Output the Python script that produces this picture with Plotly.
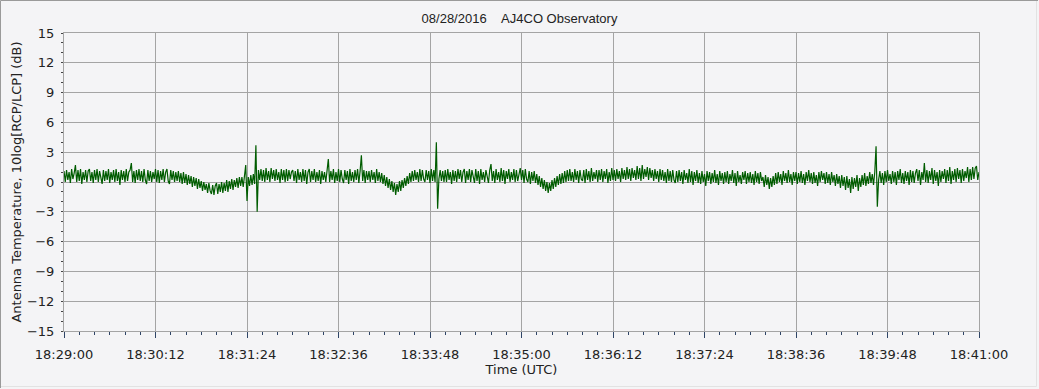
import datetime as dt
import plotly.graph_objects as go

# ---------------- data ----------------
title_text = "08/28/2016\u00a0\u00a0\u00a0\u00a0AJ4CO Observatory"
start_time = "2016-08-28 18:29:00"
end_time = "2016-08-28 18:41:00"
sample_interval_s = 1.0

# 10log[RCP/LCP] in dB, one value per second, one list per minute
min_00 = [1.1,0.0,1.2,0.2,1.0,-0.1,1.3,0.3,0.9,1.7,0.0,1.2,0.1,1.3,-0.2,1.0,0.2,1.2,0.0,1.1,
          1.3,0.1,1.0,-0.1,1.2,0.2,1.3,0.0,1.1,0.3,-0.2,1.2,0.1,1.1,0.2,1.3,-0.1,1.0,0.2,1.2,
          0.0,1.3,0.1,1.0,-0.3,1.2,0.2,1.1,0.0,1.3,0.1,1.0,1.2,1.9,0.0,1.1,-0.1,1.2,0.2,1.3]
min_01 = [0.1,1.1,0.0,1.3,0.2,-0.2,1.2,0.1,1.1,0.0,1.0,0.3,1.3,0.0,1.2,-0.1,1.1,0.2,1.3,0.0,
          1.0,1.3,0.1,-0.2,1.2,0.2,1.1,0.0,1.0,0.1,1.1,0.0,0.9,-0.2,1.0,-0.1,0.8,-0.3,0.7,-0.2,
          0.6,-0.5,0.5,-0.4,0.4,-0.7,0.3,-0.6,0.1,-0.9,0.0,-0.8,-0.2,-1.1,-0.1,-0.9,-1.2,-0.3,-1.3,-0.4]
min_02 = [-0.1,-1.2,-0.2,-1.0,0.0,-1.1,-0.1,-0.9,0.2,-1.0,0.1,-0.7,0.3,-0.8,0.2,-0.5,0.4,-0.6,0.5,-0.4,
          0.5,-0.5,0.6,1.7,-1.9,0.5,-0.4,0.7,-0.3,0.8,-0.2,3.7,-3.0,1.2,0.2,1.3,0.1,1.2,0.0,1.4,
          0.2,1.1,0.0,1.4,0.3,1.2,0.1,1.3,0.2,1.0,-0.1,1.3,0.2,1.2,0.0,1.3,0.1,1.2,0.3,1.0]
min_03 = [1.2,0.1,1.1,-0.1,1.3,0.2,1.0,0.0,1.3,0.1,1.2,-0.2,1.0,1.3,0.0,1.1,0.2,1.3,0.0,1.0,
          0.1,1.2,-0.2,1.1,0.2,1.0,0.0,1.2,2.3,0.0,1.1,0.2,1.3,-0.1,1.0,0.1,1.3,0.0,1.2,0.3,
          -0.1,1.2,0.2,1.1,-0.2,1.3,0.1,1.0,0.0,1.2,0.2,1.3,-0.1,1.1,2.7,0.1,1.2,-0.1,1.1,0.2]
min_04 = [1.1,0.0,1.2,0.2,1.0,-0.1,1.3,0.1,1.0,0.0,0.9,-0.2,0.7,-0.4,0.5,-0.6,0.3,-0.8,0.1,-1.0,
          -0.1,-1.3,-0.2,-1.0,0.1,-0.9,0.2,-0.6,0.4,-0.4,0.6,-0.2,0.9,0.0,1.1,0.1,1.2,0.2,1.0,0.0,
          1.3,0.1,1.2,0.3,0.0,1.2,0.2,1.1,-0.1,1.3,0.1,1.2,0.0,4.0,-2.7,0.3,1.2,0.1,1.1,0.0]
min_05 = [1.2,0.0,1.3,0.2,1.0,-0.2,1.2,0.1,1.1,0.0,1.3,0.3,1.2,0.0,1.0,1.3,-0.1,1.1,0.2,1.3,
          0.0,1.2,0.3,-0.1,1.3,0.1,1.1,-0.2,1.3,0.2,1.0,0.0,1.2,0.3,-0.1,1.2,1.8,0.1,1.1,-0.1,
          1.3,0.2,1.0,0.0,1.4,0.1,1.2,-0.2,1.1,0.3,1.3,0.0,1.0,0.2,1.3,0.0,1.2,0.1,0.9,1.4]
min_06 = [0.2,1.2,-0.1,1.3,0.3,0.0,1.1,-0.2,1.0,0.1,1.1,-0.1,0.8,-0.3,0.6,-0.5,0.4,-0.7,0.2,-0.9,
          0.0,-1.1,-0.1,-0.9,0.2,-0.7,0.4,-0.5,0.6,-0.3,0.8,-0.2,0.9,-0.1,1.1,0.0,1.2,0.1,1.3,0.1,
          1.0,0.0,1.3,0.2,1.1,-0.1,1.2,0.3,0.1,1.2,-0.1,1.3,0.2,1.1,0.0,1.4,0.1,1.0,0.3,1.2]
min_07 = [0.0,1.2,0.2,1.3,0.0,1.1,0.3,1.3,-0.1,1.0,0.1,1.4,0.2,1.2,0.1,1.3,0.3,1.1,0.0,1.4,
          0.3,1.2,0.2,1.5,0.3,1.3,0.1,1.4,0.4,1.2,0.2,1.6,0.3,1.4,0.1,1.7,0.3,1.3,0.5,1.5,
          0.2,1.4,0.4,1.2,0.1,1.3,0.3,1.1,0.0,1.3,0.2,1.2,0.1,1.0,-0.1,1.3,0.1,1.1,0.0,1.2]
min_08 = [0.2,-0.1,1.1,0.0,1.2,0.1,1.0,-0.2,1.2,0.2,0.9,-0.1,1.3,0.0,1.1,-0.3,1.0,0.1,1.2,-0.1,
          0.9,-0.2,1.1,0.0,0.8,-0.4,1.1,0.1,1.0,-0.2,0.9,0.0,1.2,-0.1,0.8,-0.3,1.1,0.1,0.9,-0.2,
          1.0,0.0,1.1,-0.2,0.8,0.1,1.2,-0.1,0.9,-0.4,1.1,0.0,0.7,-0.2,1.0,0.2,1.1,-0.2,0.9,0.0]
min_09 = [1.0,-0.1,0.8,-0.3,1.1,0.0,0.9,-0.2,1.0,0.1,0.5,-0.5,0.7,-0.3,0.5,-0.7,0.4,-0.5,0.6,-0.3,
          0.9,-0.2,1.0,0.0,0.8,-0.3,1.1,0.1,0.9,-0.1,1.2,0.0,0.8,-0.3,1.0,0.1,1.0,-0.2,0.9,0.0,
          1.1,-0.1,0.8,-0.3,1.0,0.1,1.2,0.0,0.9,-0.2,1.0,-0.1,0.7,-0.4,1.0,0.0,1.1,0.2,0.9,-0.2]
min_10 = [1.0,-0.1,0.8,-0.3,1.0,0.0,0.7,-0.4,0.8,-0.2,0.6,-0.6,0.7,-0.4,0.5,-0.8,0.6,-0.6,0.3,-1.1,
          0.5,-0.7,0.4,-0.5,0.7,-0.9,0.4,-0.5,0.7,-0.3,0.9,-0.4,0.6,-0.2,1.0,-0.1,0.8,-0.3,1.0,3.6,
          -2.5,0.2,1.1,-0.1,0.9,-0.3,1.1,0.0,1.2,0.1,0.8,-0.2,1.1,0.0,1.0,-0.3,1.1,0.2,1.3,-0.1]
min_11 = [0.9,-0.2,1.1,0.1,1.0,-0.3,1.2,0.0,1.1,-0.1,0.9,1.3,0.1,1.2,-0.3,1.0,0.2,1.9,0.0,1.2,
          -0.1,1.1,0.2,1.4,-0.2,1.2,0.1,1.0,-0.4,1.2,0.0,1.1,0.3,1.3,-0.1,1.2,0.1,1.5,-0.2,1.1,
          0.2,1.3,0.0,1.4,0.3,1.2,-0.1,1.3,0.1,1.1,0.4,1.5,0.0,1.3,0.2,1.5,0.3,1.4,1.6,0.2,
          1.0]

y_tick_values = [-15, -12, -9, -6, -3, 0, 3, 6, 9, 12, 15]

# ---------------- build series ----------------
db_values = (min_00 + min_01 + min_02 + min_03 + min_04 + min_05 +
             min_06 + min_07 + min_08 + min_09 + min_10 + min_11)
t0 = dt.datetime.strptime(start_time, "%Y-%m-%d %H:%M:%S")
times = [t0 + dt.timedelta(seconds=i * sample_interval_s) for i in range(len(db_values))]

BG = "#F4F4F6"
GRID = "#A4A4A4"
TXT = "#222222"
FONT = "DejaVu Sans, sans-serif"

fig = go.Figure()
fig.add_trace(go.Scatter(
    x=times, y=db_values, mode="lines",
    line=dict(color="#005C00", width=1.2),
    hoverinfo="skip", showlegend=False,
))

fig.update_layout(
    width=1039, height=389,
    margin=dict(l=64, r=60, t=33, b=58),
    paper_bgcolor=BG, plot_bgcolor=BG,
    title=dict(text=title_text, x=0.5, xanchor="center", y=1 - 18 / 389, yanchor="middle",
               font=dict(family="Liberation Sans, Arial, sans-serif", size=13, color=TXT)),
    font=dict(family=FONT, size=13, color=TXT),
    showlegend=False,
)

fig.update_xaxes(
    type="date",
    range=[start_time, end_time],
    tick0=start_time, dtick=72000, tickformat="%H:%M:%S",
    showgrid=True, gridcolor=GRID, gridwidth=1,
    showline=True, linecolor=GRID, linewidth=1, mirror=True,
    zeroline=False,
    ticks="outside", ticklen=6, tickcolor="#2E4466", tickwidth=1,
    ticklabelstandoff=5,
    minor=dict(dtick=12000, ticks="outside", ticklen=3, tickcolor="#2E4466", showgrid=False),
    tickfont=dict(family=FONT, size=13, color=TXT),
    title=dict(text="Time (UTC)", standoff=4, font=dict(family=FONT, size=13, color=TXT)),
)
fig.update_yaxes(
    range=[-15, 15],
    tickvals=y_tick_values,
    showgrid=True, gridcolor=GRID, gridwidth=1,
    showline=True, linecolor=GRID, linewidth=1, mirror=True,
    zeroline=False,
    ticks="outside", ticklen=2, tickcolor="#444444", tickwidth=1,
    ticklabelstandoff=4,
    minor=dict(dtick=1, ticks="outside", ticklen=2, tickcolor="#444444", showgrid=False),
    tickfont=dict(family=FONT, size=13, color=TXT),
    title=dict(text="Antenna Temperature, 10log[RCP/LCP] (dB)", standoff=2,
               font=dict(family=FONT, size=13, color=TXT)),
)

# window-style frame around the whole picture
pw, ph = 915.0, 298.0
def px_x(p):
    return (p - 64) / pw
def px_y(p):
    return (331 - p) / ph
fig.add_shape(type="line", xref="paper", yref="paper", x0=px_x(0.5), x1=px_x(1038), y0=px_y(0.5), y1=px_y(0.5),
              line=dict(color="#9A9A9A", width=1))
fig.add_shape(type="line", xref="paper", yref="paper", x0=px_x(0.5), x1=px_x(0.5), y0=px_y(0.5), y1=px_y(388),
              line=dict(color="#9A9A9A", width=1))
fig.add_shape(type="line", xref="paper", yref="paper", x0=px_x(1036.5), x1=px_x(1036.5), y0=px_y(1), y1=px_y(386.5),
              line=dict(color="#E2E2E2", width=1))
fig.add_shape(type="line", xref="paper", yref="paper", x0=px_x(1), x1=px_x(1036.5), y0=px_y(386.5), y1=px_y(386.5),
              line=dict(color="#E2E2E2", width=1))

fig.write_html("out.html")
